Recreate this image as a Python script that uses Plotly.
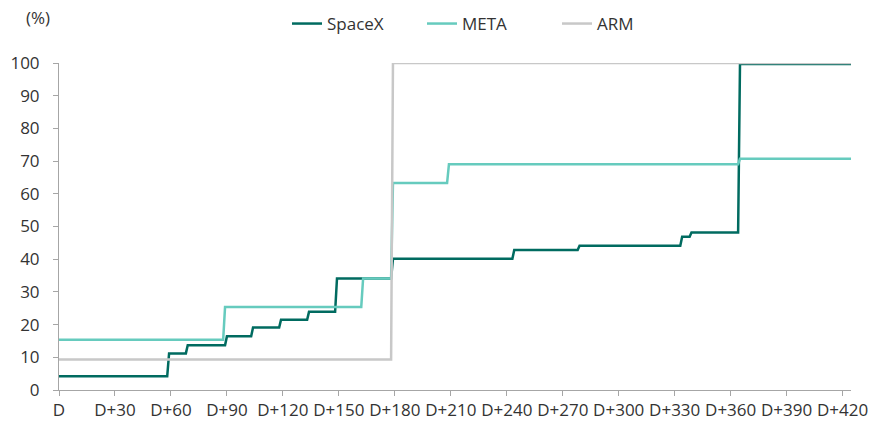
import plotly.graph_objects as go

# Breakpoints (day offset from D, value %)
spacex_days = [0, 58, 59, 68, 69, 89, 90, 103, 104, 118, 119, 133, 134, 148, 149,
               178, 179, 243, 244, 278, 279, 333, 334, 338, 339, 364, 365, 424.5]
spacex_vals = [4.2, 4.2, 11.2, 11.2, 13.7, 13.7, 16.4, 16.4, 19.1, 19.1, 21.5, 21.5, 23.9, 23.9, 34.1,
               34.1, 40.1, 40.1, 42.8, 42.8, 44.1, 44.1, 46.9, 46.9, 48.2, 48.2, 99.7, 99.7]

meta_days = [0, 88, 89, 162, 163, 178, 179, 208, 209, 364, 365, 424.5]
meta_vals = [15.4, 15.4, 25.4, 25.4, 34.1, 34.1, 63.3, 63.3, 69.0, 69.0, 70.7, 70.7]

arm_days = [0, 178, 179, 424.5]
arm_vals = [9.3, 9.3, 100, 100]

tick_days = list(range(0, 421, 30))
tick_labels = ["D"] + [f"D+{d}" for d in tick_days[1:]]

FONT = "Open Sans, Noto Sans, sans-serif"
W, H = 881, 423
L, T = 59, 63
pw, ph = 792, 327
R, B = W - L - pw, H - T - ph


def px(x):  # window pixel -> paper x
    return (x - L) / pw


def py(y):  # window pixel -> paper y
    return (T + ph - y) / ph


AX = "#A6A6A6"
fig = go.Figure()
fig.add_trace(go.Scatter(x=spacex_days, y=spacex_vals, mode="lines", name="SpaceX",
                         line=dict(color="#006B60", width=2.5)))
fig.add_trace(go.Scatter(x=meta_days, y=meta_vals, mode="lines", name="META",
                         line=dict(color="#66CBBE", width=2.5)))
fig.add_trace(go.Scatter(x=arm_days, y=arm_vals, mode="lines", name="ARM",
                         line=dict(color="#C8C8C8", width=2.5)))

fig.update_layout(
    width=W, height=H,
    margin=dict(l=L, r=R, t=T, b=B, autoexpand=False),
    paper_bgcolor="white", plot_bgcolor="white",
    font=dict(family=FONT, size=17, color="#333333"),
    showlegend=True,
    legend=dict(orientation="h", x=px(287), xanchor="left",
                y=py(24), yanchor="middle", entrywidth=90, entrywidthmode="pixels",
                font=dict(size=17), bgcolor="rgba(0,0,0,0)"),
    xaxis=dict(range=[0, 424.5], tickmode="array", tickvals=tick_days, ticktext=tick_labels,
               showgrid=False, zeroline=False, showline=True, linecolor=AX, linewidth=1,
               ticks="outside", ticklen=5, tickcolor=AX, tickfont=dict(size=17),
               automargin=False),
    yaxis=dict(range=[0, 100], tickmode="array", tickvals=list(range(0, 101, 10)),
               showgrid=False, zeroline=False, showline=True, linecolor=AX, linewidth=1,
               ticks="outside", ticklen=5, tickcolor=AX, tickfont=dict(size=17),
               ticklabelstandoff=10, automargin=False),
    annotations=[dict(text="(%)", x=px(38), y=py(17),
                      xref="paper", yref="paper", showarrow=False,
                      font=dict(size=17), xanchor="center", yanchor="middle")],
)

fig.write_html("out.html", config={"displayModeBar": False},
               post_script="document.body.style.margin='0';")
